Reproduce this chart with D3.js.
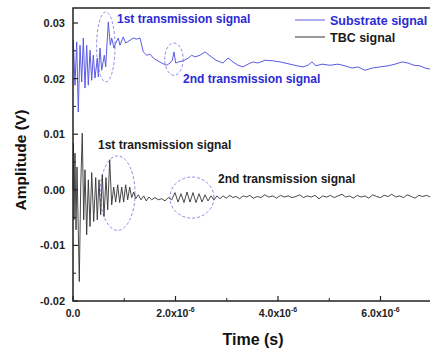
<!DOCTYPE html>
<html>
<head>
<meta charset="utf-8">
<script src="https://cdn.jsdelivr.net/npm/d3@7"></script>
<style>
  body { margin: 0; background: #fff; }
  svg { display: block; font-family: "Liberation Sans", Arial, sans-serif; }
</style>
</head>
<body>
<svg id="chart" width="430" height="349"></svg>
<script>
// time in microseconds, amplitude in volts
const substrateTime = [0.006, 0.039, 0.072, 0.103, 0.137, 0.170, 0.201, 0.234, 0.267, 0.299,
  0.332, 0.365, 0.396, 0.429, 0.474, 0.494, 0.527, 0.560, 0.611, 0.638,
  0.689, 0.728, 0.755, 0.800, 0.833, 0.884, 0.917, 0.981, 1.028, 1.112,
  1.177, 1.243, 1.307, 1.372, 1.438, 1.502, 1.567, 1.633, 1.731, 1.828,
  1.893, 1.938, 1.971, 2.004, 2.055, 2.152, 2.250, 2.316, 2.380, 2.478,
  2.576, 2.673, 2.790, 2.927, 3.024, 3.122, 3.220, 3.317, 3.415, 3.512,
  3.610, 3.746, 3.902, 4.039, 4.234, 4.371, 4.488, 4.585, 4.663, 4.741,
  4.859, 5.015, 5.171, 5.307, 5.444, 5.561, 5.698, 5.834, 5.990, 6.146,
  6.283, 6.420, 6.537, 6.654, 6.771, 6.868, 6.966];
const substrateAmp = [0.0269, 0.0188, 0.0266, 0.0140, 0.0260, 0.0194, 0.0273, 0.0183, 0.0260, 0.0188,
  0.0251, 0.0197, 0.0242, 0.0201, 0.0237, 0.0203, 0.0255, 0.0215, 0.0242, 0.0221,
  0.0302, 0.0260, 0.0273, 0.0255, 0.0264, 0.0273, 0.0260, 0.0275, 0.0264, 0.0269,
  0.0273, 0.0271, 0.0273, 0.0248, 0.0242, 0.0244, 0.0237, 0.0233, 0.0228, 0.0224,
  0.0228, 0.0233, 0.0248, 0.0228, 0.0230, 0.0232, 0.0237, 0.0242, 0.0239, 0.0242,
  0.0248, 0.0241, 0.0233, 0.0228, 0.0237, 0.0230, 0.0224, 0.0221, 0.0226, 0.0230,
  0.0228, 0.0233, 0.0232, 0.0230, 0.0226, 0.0223, 0.0221, 0.0224, 0.0230, 0.0223,
  0.0226, 0.0224, 0.0226, 0.0223, 0.0219, 0.0221, 0.0215, 0.0219, 0.0221, 0.0223,
  0.0226, 0.0230, 0.0228, 0.0224, 0.0223, 0.0219, 0.0217];

const tbcTime = [0.000, 0.010, 0.020, 0.039, 0.059, 0.078, 0.103, 0.123, 0.150, 0.181,
  0.209, 0.234, 0.267, 0.299, 0.332, 0.365, 0.404, 0.443, 0.474, 0.507,
  0.540, 0.572, 0.605, 0.644, 0.677, 0.716, 0.755, 0.794, 0.833, 0.872,
  0.911, 0.950, 0.989, 1.028, 1.067, 1.106, 1.145, 1.184, 1.223, 1.274,
  1.327, 1.380, 1.430, 1.483, 1.536, 1.600, 1.664, 1.731, 1.795, 1.860,
  1.926, 1.990, 2.049, 2.107, 2.166, 2.224, 2.283, 2.341, 2.400, 2.459,
  2.517, 2.576, 2.634, 2.693, 2.751, 2.810, 2.868, 2.930, 2.990, 3.060,
  3.120, 3.180, 3.250, 3.320, 3.390, 3.450, 3.520, 3.600, 3.670, 3.740,
  3.820, 3.900, 3.970, 4.050, 4.120, 4.200, 4.270, 4.350, 4.420, 4.500,
  4.570, 4.650, 4.720, 4.800, 4.870, 4.950, 5.020, 5.100, 5.170, 5.250,
  5.320, 5.400, 5.470, 5.550, 5.620, 5.700, 5.770, 5.850, 5.920, 6.000,
  6.070, 6.150, 6.220, 6.300, 6.370, 6.450, 6.520, 6.600, 6.670, 6.750,
  6.820, 6.900, 6.970];
const tbcAmp = [0.0000, 0.0084, -0.0054, 0.0066, -0.0072, 0.0041, -0.0072, -0.0165, 0.0005, 0.0102,
  -0.0054, 0.0036, -0.0081, 0.0018, -0.0066, 0.0031, -0.0057, 0.0022, -0.0054, 0.0018,
  -0.0045, 0.0027, -0.0048, 0.0022, -0.0036, 0.0054, -0.0027, 0.0005, -0.0022, 0.0009,
  -0.0023, 0.0005, -0.0022, 0.0009, -0.0018, 0.0005, -0.0014, -0.0004, -0.0016, -0.0009,
  -0.0018, -0.0011, -0.0020, -0.0013, -0.0018, -0.0014, -0.0018, -0.0016, -0.0020, -0.0014,
  -0.0018, -0.0005, -0.0022, -0.0007, -0.0023, -0.0004, -0.0022, -0.0005, -0.0023, -0.0007,
  -0.0022, -0.0009, -0.0020, -0.0011, -0.0018, -0.0011, -0.0016, -0.0011, -0.0015, -0.0010,
  -0.0014, -0.0012, -0.0016, -0.0011, -0.0013, -0.0010, -0.0015, -0.0012, -0.0014, -0.0009,
  -0.0013, -0.0011, -0.0015, -0.0010, -0.0013, -0.0011, -0.0014, -0.0012, -0.0009, -0.0014,
  -0.0011, -0.0013, -0.0010, -0.0016, -0.0011, -0.0013, -0.0010, -0.0014, -0.0011, -0.0008,
  -0.0013, -0.0011, -0.0015, -0.0010, -0.0013, -0.0011, -0.0015, -0.0009, -0.0012, -0.0014,
  -0.0010, -0.0012, -0.0008, -0.0013, -0.0011, -0.0014, -0.0009, -0.0012, -0.0015, -0.0010,
  -0.0012, -0.0010, -0.0013];

const yTicks = [-0.02, -0.01, 0.00, 0.01, 0.02, 0.03];
const yLabels = ["-0.02", "-0.01", "0.00", "0.01", "0.02", "0.03"];
const xTicks = [0, 2, 4, 6];
const xLabels = ["0.0", "2.0x10", "4.0x10", "6.0x10"];

// dashed ellipses: centre (µs, V) and radii (µs, V)
const ellipses = [
  { t: 0.64, v: 0.0257, rt: 0.18, rv: 0.0063 },
  { t: 1.97, v: 0.0235, rt: 0.18, rv: 0.0029 },
  { t: 0.87, v: -0.0006, rt: 0.34, rv: 0.0067 },
  { t: 2.32, v: -0.0014, rt: 0.43, rv: 0.0037 }
];

const svg = d3.select("#chart");
const mLeft = 73, mRight = 431.75, mTop = 8, mBottom = 301;

const x = d3.scaleLinear().domain([0, 7]).range([mLeft, mRight]);
const y = d3.scaleLinear().domain([-0.02, 0.0327]).range([mBottom, mTop]);

const plot = svg.append("g");

// ellipses
plot.selectAll("ellipse")
  .data(ellipses)
  .enter()
  .append("ellipse")
  .attr("cx", d => x(d.t))
  .attr("cy", d => y(d.v))
  .attr("rx", d => x(d.rt) - x(0))
  .attr("ry", d => y(0) - y(d.rv))
  .attr("fill", "none")
  .attr("stroke", "#6f6fe0")
  .attr("stroke-width", 0.8)
  .attr("stroke-dasharray", "3,2");

const line = d3.line().x(d => x(d[0])).y(d => y(d[1]));

plot.append("path")
  .datum(substrateTime.map((t, i) => [t, substrateAmp[i]]))
  .attr("d", line)
  .attr("fill", "none")
  .attr("stroke", "#5b5be6")
  .attr("stroke-width", 1);

plot.append("path")
  .datum(tbcTime.map((t, i) => [t, tbcAmp[i]]))
  .attr("d", line)
  .attr("fill", "none")
  .attr("stroke", "#333")
  .attr("stroke-width", 0.9);

// frame
svg.append("rect")
  .attr("x", mLeft).attr("y", mTop)
  .attr("width", mRight - mLeft).attr("height", mBottom - mTop)
  .attr("fill", "none")
  .attr("stroke", "#222")
  .attr("stroke-width", 1.5);

// y ticks (inward) + minor
const yMinor = [-0.015, -0.005, 0.005, 0.015, 0.025];
svg.selectAll(".ytick")
  .data(yTicks)
  .enter()
  .append("line")
  .attr("x1", mLeft).attr("x2", mLeft + 5)
  .attr("y1", d => y(d)).attr("y2", d => y(d))
  .attr("stroke", "#222").attr("stroke-width", 1.2);
svg.selectAll(".yminor")
  .data(yMinor)
  .enter()
  .append("line")
  .attr("x1", mLeft).attr("x2", mLeft + 3)
  .attr("y1", d => y(d)).attr("y2", d => y(d))
  .attr("stroke", "#222").attr("stroke-width", 1);
svg.selectAll(".ylab")
  .data(yTicks)
  .enter()
  .append("text")
  .attr("x", mLeft - 8)
  .attr("y", d => y(d) + 4)
  .attr("text-anchor", "end")
  .attr("font-size", 11)
  .attr("font-weight", "bold")
  .attr("fill", "#222")
  .text((d, i) => yLabels[i]);

// x ticks
const xMinor = [1, 3, 5];
svg.selectAll(".xtick")
  .data(xTicks)
  .enter()
  .append("line")
  .attr("x1", d => x(d)).attr("x2", d => x(d))
  .attr("y1", mBottom).attr("y2", mBottom - 5)
  .attr("stroke", "#222").attr("stroke-width", 1.2);
svg.selectAll(".xminor")
  .data(xMinor)
  .enter()
  .append("line")
  .attr("x1", d => x(d)).attr("x2", d => x(d))
  .attr("y1", mBottom).attr("y2", mBottom - 3)
  .attr("stroke", "#222").attr("stroke-width", 1);

const xl = svg.selectAll(".xlab")
  .data(xTicks)
  .enter()
  .append("text")
  .attr("x", d => x(d))
  .attr("y", 317)
  .attr("text-anchor", "middle")
  .attr("font-size", 10.5)
  .attr("font-weight", "bold")
  .attr("fill", "#222");
xl.append("tspan").text((d, i) => xLabels[i]);
xl.filter(d => d !== 0)
  .append("tspan")
  .attr("dy", -5)
  .attr("font-size", 7)
  .text("-6");

// axis titles
svg.append("text")
  .attr("x", 253).attr("y", 345)
  .attr("text-anchor", "middle")
  .attr("font-size", 16)
  .attr("font-weight", "bold")
  .attr("fill", "#111")
  .text("Time (s)");
svg.append("text")
  .attr("transform", "translate(26,160) rotate(-90)")
  .attr("text-anchor", "middle")
  .attr("font-size", 15.5)
  .attr("font-weight", "bold")
  .attr("fill", "#111")
  .text("Amplitude (V)");

// annotations
const notes = [
  { text: "1st transmission signal", px: 117, py: 23, color: "#2b2bd6" },
  { text: "2nd transmission signal", px: 183, py: 83, color: "#2b2bd6" },
  { text: "1st transmission signal", px: 98, py: 149, color: "#1a1a1a" },
  { text: "2nd transmission signal", px: 218, py: 183, color: "#1a1a1a" }
];
svg.selectAll(".note")
  .data(notes)
  .enter()
  .append("text")
  .attr("x", d => d.px)
  .attr("y", d => d.py)
  .attr("font-size", 12)
  .attr("font-weight", "bold")
  .attr("fill", d => d.color)
  .text(d => d.text);

// legend
const legend = [
  { text: "Substrate signal", color: "#5b5be6", textColor: "#2b2bd6", py: 20 },
  { text: "TBC signal", color: "#333", textColor: "#1a1a1a", py: 37 }
];
const lg = svg.selectAll(".legend")
  .data(legend)
  .enter()
  .append("g");
lg.append("line")
  .attr("x1", 295).attr("x2", 325)
  .attr("y1", d => d.py).attr("y2", d => d.py)
  .attr("stroke", d => d.color)
  .attr("stroke-width", 1);
lg.append("text")
  .attr("x", 330)
  .attr("y", d => d.py + 4.5)
  .attr("font-size", 12.5)
  .attr("font-weight", "bold")
  .attr("fill", d => d.textColor)
  .text(d => d.text);
</script>
</body>
</html>
